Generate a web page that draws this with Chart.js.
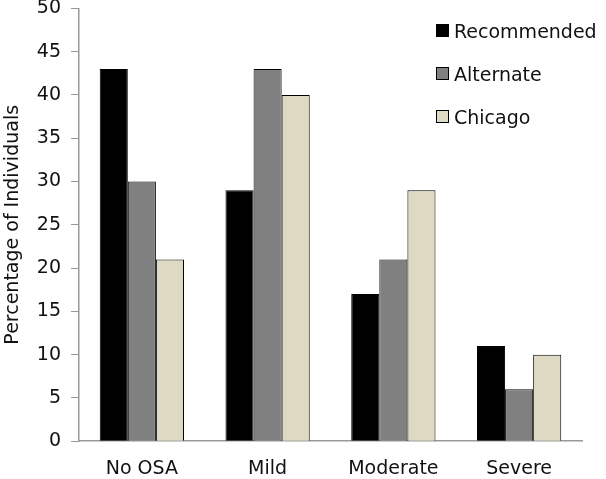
<!DOCTYPE html>
<html>
<head>
<meta charset="utf-8">
<script src="https://cdn.jsdelivr.net/npm/chart.js@4"></script>
<style>
  html, body { margin: 0; padding: 0; background: #fff; }
  #wrap { position: relative; width: 606px; height: 479px; overflow: hidden; }
  #chart { position: absolute; left: 0; top: -13px; }
  #legend { position: absolute; left: 436px; top: 9px; font-family: "DejaVu Sans", sans-serif; font-size: 19px; color: #111; }
  #legend .item { display: flex; align-items: center; height: 43px; }
  #legend .box { width: 11px; height: 11px; border: 1px solid #000; margin-right: 5px; }
</style>
</head>
<body>
<div id="wrap">
  <canvas id="chart" width="606" height="509"></canvas>
  <div id="legend"></div>
</div>
<script>
// Data
const categories = ['No OSA', 'Mild', 'Moderate', 'Severe'];
const recommended = [43, 29, 17, 11];
const alternate = [30, 43, 21, 6];
const chicago = [21, 40, 29, 10];
const seriesNames = ['Recommended', 'Alternate', 'Chicago'];
const seriesColors = ['#000000', '#808080', '#ddd9c3'];

document.addEventListener('DOMContentLoaded', function () {
    const font = { family: '"DejaVu Sans", sans-serif', size: 19 };
    const values = [recommended, alternate, chicago];

    const datasets = seriesNames.map((name, i) => ({
        label: name,
        data: values[i],
        backgroundColor: seriesColors[i],
        borderColor: '#000',
        borderWidth: 1,
        categoryPercentage: 0.67,
        barPercentage: 1.0
    }));

    const ctx = document.getElementById('chart').getContext('2d');
    new Chart(ctx, {
        type: 'bar',
        data: { labels: categories, datasets: datasets },
        options: {
            responsive: false,
            animation: false,
            layout: { padding: { top: 0, right: 24, left: 0, bottom: 0 } },
            plugins: { legend: { display: false }, tooltip: { enabled: false } },
            scales: {
                x: {
                    grid: { display: false, drawTicks: false },
                    border: { color: '#999', width: 1.5 },
                    ticks: { color: '#111', font: font, padding: 16 }
                },
                y: {
                    min: 0,
                    max: 50,
                    ticks: { stepSize: 5, color: '#111', font: font, padding: 10 },
                    grid: { display: true, drawOnChartArea: false, tickLength: 8, color: '#999' },
                    border: { color: '#999', width: 1.5 },
                    title: { display: true, text: 'Percentage of Individuals', color: '#111', font: font, padding: 2 }
                }
            }
        }
    });

    // Legend in the top right corner
    const legend = document.getElementById('legend');
    seriesNames.forEach((name, i) => {
        const item = document.createElement('div');
        item.className = 'item';
        item.innerHTML = '<span class="box" style="background:' + seriesColors[i] + '"></span><span>' + name + '</span>';
        legend.appendChild(item);
    });
});
</script>
</body>
</html>
